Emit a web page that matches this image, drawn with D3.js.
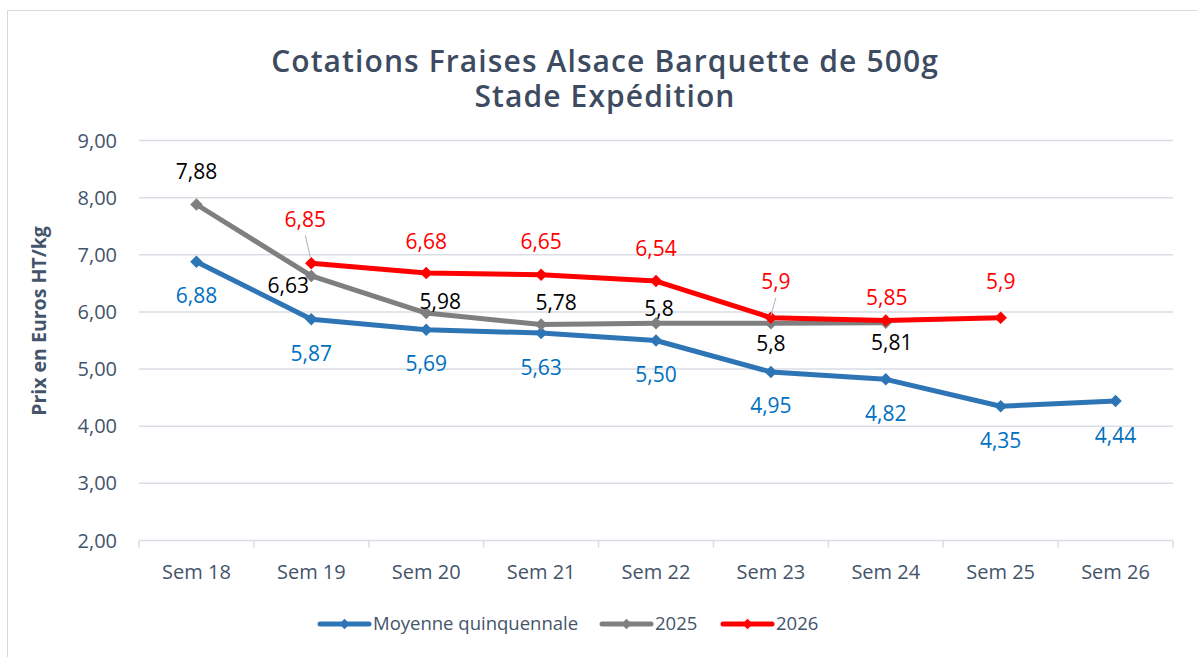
<!DOCTYPE html>
<html>
<head>
<meta charset="utf-8">
<script src="https://cdn.jsdelivr.net/npm/d3@7"></script>
<style>
    body { margin: 0; background: #fff; }
    text { font-family: 'Open Sans', sans-serif; }
</style>
</head>
<body>
<svg id="chart" width="1197" height="657"></svg>
<script>
const categories = ['Sem 18', 'Sem 19', 'Sem 20', 'Sem 21', 'Sem 22', 'Sem 23', 'Sem 24', 'Sem 25', 'Sem 26'];
const moyenne = [6.88, 5.87, 5.69, 5.63, 5.50, 4.95, 4.82, 4.35, 4.44];
const y2025 = [7.88, 6.63, 5.98, 5.78, 5.8, 5.8, 5.81, null, null];
const y2026 = [null, 6.85, 6.68, 6.65, 6.54, 5.9, 5.85, 5.9, null];
const moyenneLabels = ['6,88', '5,87', '5,69', '5,63', '5,50', '4,95', '4,82', '4,35', '4,44'];
const labels2025 = ['7,88', '6,63', '5,98', '5,78', '5,8', '5,8', '5,81', null, null];
const labels2026 = [null, '6,85', '6,68', '6,65', '6,54', '5,9', '5,85', '5,9', null];
const yTicks = [2, 3, 4, 5, 6, 7, 8, 9];

// label offsets (dx, dy) from the point, hand placed like in the excel chart
const offMoyenne = categories.map(() => [0, 34]);
const off2025 = [[0, -33], [-23, 10], [14, -12], [15, -22], [3, -15], [0, 20], [6, 20]];
const off2026 = [null, [-6, -44], [0, -32], [0, -33], [0, -33], [5, -36], [1, -23], [0, -36]];

const series = [
    {name: 'Moyenne quinquennale', values: moyenne, labels: moyenneLabels, offsets: offMoyenne,
     color: '#2e75b6', labelColor: '#0070c0'},
    {name: '2025', values: y2025, labels: labels2025, offsets: off2025,
     color: '#7f7f7f', labelColor: '#000000'},
    {name: '2026', values: y2026, labels: labels2026, offsets: off2026,
     color: '#ff0000', labelColor: '#ff0000'}
];

const svg = d3.select('#chart');
const plotLeft = 139, plotRight = 1173, plotTop = 140.5, plotBottom = 540.5;
const axisColor = '#d9dde4', textColor = '#44546a';

// outer frame of the chart area
svg.append('rect')
    .attr('x', 7.5).attr('y', 10.5)
    .attr('width', 1200).attr('height', 700)
    .attr('fill', 'none').attr('stroke', '#d9d9d9');

const title = svg.append('text')
    .attr('text-anchor', 'middle')
    .attr('font-weight', 600).attr('font-size', 30)
    .attr('letter-spacing', 1.1)
    .attr('fill', '#3c4b61');
title.append('tspan').attr('x', 605).attr('y', 72)
    .text('Cotations Fraises Alsace Barquette de 500g');
title.append('tspan').attr('x', 605).attr('y', 107)
    .text('Stade Expédition');

const x = d3.scaleBand().domain(categories).range([plotLeft, plotRight]);
const y = d3.scaleLinear().domain([2, 9]).range([plotBottom, plotTop]);
const cx = (i) => x(categories[i]) + x.bandwidth() / 2;

// horizontal gridlines
svg.append('g').selectAll('line')
    .data(yTicks.filter(t => t > 2))
    .join('line')
    .attr('x1', plotLeft).attr('x2', plotRight)
    .attr('y1', d => y(d)).attr('y2', d => y(d))
    .attr('stroke', axisColor).attr('stroke-width', 1.5);

// y axis labels
svg.append('g').selectAll('text')
    .data(yTicks)
    .join('text')
    .attr('x', 117).attr('y', d => y(d))
    .attr('dy', '0.35em')
    .attr('text-anchor', 'end')
    .attr('font-size', 20)
    .attr('fill', textColor)
    .text(d => d3.format('.2f')(d).replace('.', ','));

// x axis with ticks between categories
svg.append('line')
    .attr('x1', plotLeft).attr('x2', plotRight)
    .attr('y1', plotBottom).attr('y2', plotBottom)
    .attr('stroke', axisColor).attr('stroke-width', 1.5);
svg.append('g').selectAll('line')
    .data(d3.range(categories.length + 1))
    .join('line')
    .attr('x1', i => plotLeft + i * x.step()).attr('x2', i => plotLeft + i * x.step())
    .attr('y1', plotBottom).attr('y2', plotBottom + 7)
    .attr('stroke', axisColor).attr('stroke-width', 1.5);
svg.append('g').selectAll('text')
    .data(categories)
    .join('text')
    .attr('x', (d, i) => cx(i)).attr('y', 579)
    .attr('text-anchor', 'middle')
    .attr('font-size', 20)
    .attr('fill', textColor)
    .text(d => d);

svg.append('text')
    .attr('transform', 'translate(46,321) rotate(-90)')
    .attr('text-anchor', 'middle')
    .attr('font-size', 19.5).attr('font-weight', 700)
    .attr('fill', textColor)
    .text('Prix en Euros HT/kg');

const line = d3.line()
    .defined(d => d.v != null)
    .x(d => cx(d.i))
    .y(d => y(d.v));
const diamond = d3.symbol().type(d3.symbolDiamond2);

series.forEach(s => {
    const pts = s.values.map((v, i) => ({v, i}));
    svg.append('path')
        .datum(pts)
        .attr('d', line)
        .attr('fill', 'none')
        .attr('stroke', s.color)
        .attr('stroke-width', 5)
        .attr('stroke-linejoin', 'round');
    svg.append('g').selectAll('path')
        .data(pts.filter(d => d.v != null))
        .join('path')
        .attr('d', diamond.size(100))
        .attr('transform', d => `translate(${cx(d.i)},${y(d.v)})`)
        .attr('fill', s.color);
});

// leader lines for the two red labels far from their points
const leaders = [[1, [-6, -28], [-1, -6]], [5, [5, -20], [0, -2]]];
svg.append('g').selectAll('line')
    .data(leaders)
    .join('line')
    .attr('x1', d => cx(d[0]) + d[1][0]).attr('y1', d => y(y2026[d[0]]) + d[1][1])
    .attr('x2', d => cx(d[0]) + d[2][0]).attr('y2', d => y(y2026[d[0]]) + d[2][1])
    .attr('stroke', '#a6b3c4').attr('stroke-width', 1);

series.forEach(s => {
    svg.append('g').selectAll('text')
        .data(s.values.map((v, i) => ({v, i, t: s.labels[i], o: s.offsets[i]})).filter(d => d.v != null))
        .join('text')
        .attr('x', d => cx(d.i) + d.o[0])
        .attr('y', d => y(d.v) + d.o[1])
        .attr('dy', '0.36em')
        .attr('text-anchor', 'middle')
        .attr('font-size', 21)
        .attr('fill', s.labelColor)
        .text(d => d.t);
});

// legend
const legendX = [320, 602, 723];
const legend = svg.append('g').selectAll('g')
    .data(series)
    .join('g')
    .attr('transform', (d, i) => `translate(${legendX[i]},624)`);
legend.append('line')
    .attr('x1', 0).attr('x2', 49)
    .attr('stroke', d => d.color).attr('stroke-width', 5)
    .attr('stroke-linecap', 'round');
legend.append('path')
    .attr('d', diamond.size(70))
    .attr('transform', 'translate(24.5,0)')
    .attr('fill', d => d.color);
legend.append('text')
    .attr('x', 53).attr('dy', '0.35em')
    .attr('font-size', 18.5)
    .attr('fill', textColor)
    .text(d => d.name);
</script>
</body>
</html>
